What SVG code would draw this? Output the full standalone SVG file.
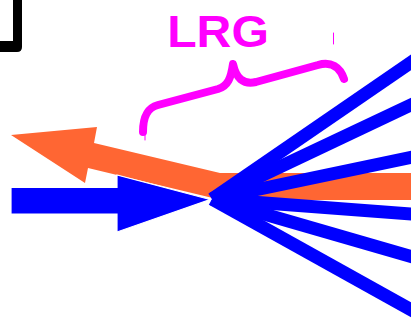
<svg xmlns="http://www.w3.org/2000/svg" width="411" height="320" viewBox="0 0 411 320">
  <style>
    .jet { stroke: #0000ff; stroke-width: 13; stroke-linecap: butt; fill: none; }
    .magenta { fill: none; stroke: #ff00ff; stroke-linecap: round; stroke-linejoin: round; }
    .label { font-family: "Liberation Sans", Arial, sans-serif; font-weight: bold; font-size: 44px; fill: #ff00ff; }
  </style>
  <rect width="411" height="320" fill="#ffffff"/>

  <!-- black corner mark, top left -->
  <g id="corner">
    <path d="M13,0 H22 V47 Q22,52 17,52 H0 V41 H13 Z" fill="#000000"/>
  </g>

  <!-- outgoing orange beam, bending into a horizontal band -->
  <g id="orange-beam">
    <polygon points="11,135 97,127 94,143 220,173 411,173 411,200 221,200 88,168 85,183" fill="#ff6633"/>
  </g>

  <!-- fan of blue jets spreading to the right -->
  <g id="jets">
    <line class="jet" x1="212" y1="199" x2="451" y2="35"/>
    <line class="jet" x1="212" y1="199" x2="451" y2="86"/>
    <line class="jet" x1="212" y1="199" x2="451" y2="149"/>
    <line class="jet" x1="212" y1="199" x2="451" y2="217"/>
    <line class="jet" x1="212" y1="199" x2="451" y2="268"/>
    <line class="jet" x1="212" y1="199" x2="451" y2="332"/>
  </g>

  <!-- incoming blue arrow -->
  <g id="blue-arrow">
    <polygon points="11,187.5 117,187.5 117,175 210,199.5 117,232 117,214 11,214" fill="#0000ff" stroke="#ffffff" stroke-width="1.2" stroke-linejoin="miter"/>
  </g>

  <!-- brace with its label -->
  <g id="lrg">
    <path class="magenta" stroke-width="8" d="M143,132 C143,117 147,108 158,105 L218,89 C228,86 231,78 233,64 C236,78 243,85 256,82 L318,65 C331,61 340,67 344,79"/>
    <line class="magenta" stroke-width="1" stroke-linecap="butt" x1="145" y1="133" x2="145" y2="140"/>
    <line class="magenta" stroke-width="1" stroke-linecap="butt" x1="333.5" y1="33" x2="333.5" y2="44"/>
    <text class="label" x="167.2" y="46.5" textLength="101.7" lengthAdjust="spacingAndGlyphs">LRG</text>
  </g>
</svg>
